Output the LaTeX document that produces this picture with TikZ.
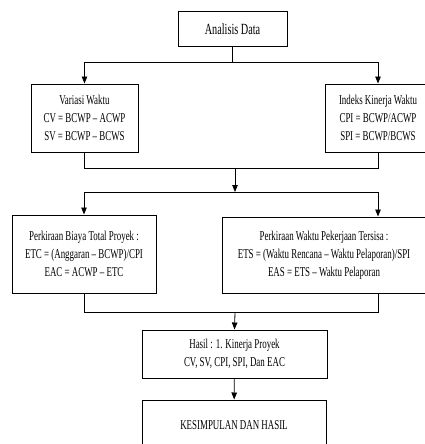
\documentclass[tikz,border=0pt]{standalone}
\usepackage{fontspec}
\setmainfont{Liberation Serif}[FakeStretch=0.66]
\usetikzlibrary{arrows.meta}
\begin{document}
\begin{tikzpicture}[x=1pt,y=-1pt,
    box/.style={draw,line width=1pt,align=center,inner sep=0pt,
      font=\fontsize{13.5}{18}\selectfont},
    >={Triangle[length=7pt,width=5.5pt]}]
  \useasboundingbox (0,0) rectangle (424,444);
  \draw
    (232.5,29.5) node[box,minimum width=109pt,minimum height=35pt,font=\fontsize{15.5}{18}\selectfont] (data){Analisis Data}
    (84.5,118) node[box,minimum width=107pt,minimum height=68pt] (variasi){Variasi Waktu\\CV = BCWP -- ACWP\\SV = BCWP -- BCWS}
    (378,118) node[box,minimum width=106pt,minimum height=68pt] (indeks){Indeks Kinerja Waktu\\CPI = BCWP/ACWP\\SPI = BCWP/BCWS}
    (84,254) node[box,minimum width=144pt,minimum height=78pt] (biaya){Perkiraan Biaya Total Proyek :\\ETC = (Anggaran -- BCWP)/CPI\\EAC = ACWP -- ETC}
    (324,255) node[box,minimum width=204pt,minimum height=76pt] (waktu){Perkiraan Waktu Pekerjaan Tersisa :\\ETS = (Waktu Rencana -- Waktu Pelaporan)/SPI\\EAS = ETS -- Waktu Pelaporan}
    (234.5,354) node[box,minimum width=185pt,minimum height=48pt] (hasil){Hasil : 1. Kinerja Proyek\\CV, SV, CPI, SPI, Dan EAC}
    (234,425) node[box,minimum width=184pt,minimum height=50pt] (kesimpulan){KESIMPULAN DAN HASIL};
  \coordinate (j1) at (232.5,62);
  \coordinate (j2) at (235,168);
  \coordinate (j3) at (235,192);
  \coordinate (j4) at (235,312);
  \begin{scope}[line width=0.8pt]
    \draw (data.south) -- (j1);
    \draw[->] (j1) -| (variasi.north);
    \draw[->] (j1) -| (indeks.north);
    \draw (variasi.south) |- (j2);
    \draw (j2) -| (indeks.south);
    \draw[->] (j2) -- (j3);
    \draw[->] (j3) -| (biaya.north);
    \draw[->] (j3) -| (waktu.north -| indeks.south);
    \draw (biaya.south) |- (j4);
    \draw (j4) -| (waktu.south -| indeks.south);
    \draw[->] (j4) -- (hasil.north);
    \draw[->] (hasil) -- (kesimpulan);
  \end{scope}
\end{tikzpicture}
\end{document}
